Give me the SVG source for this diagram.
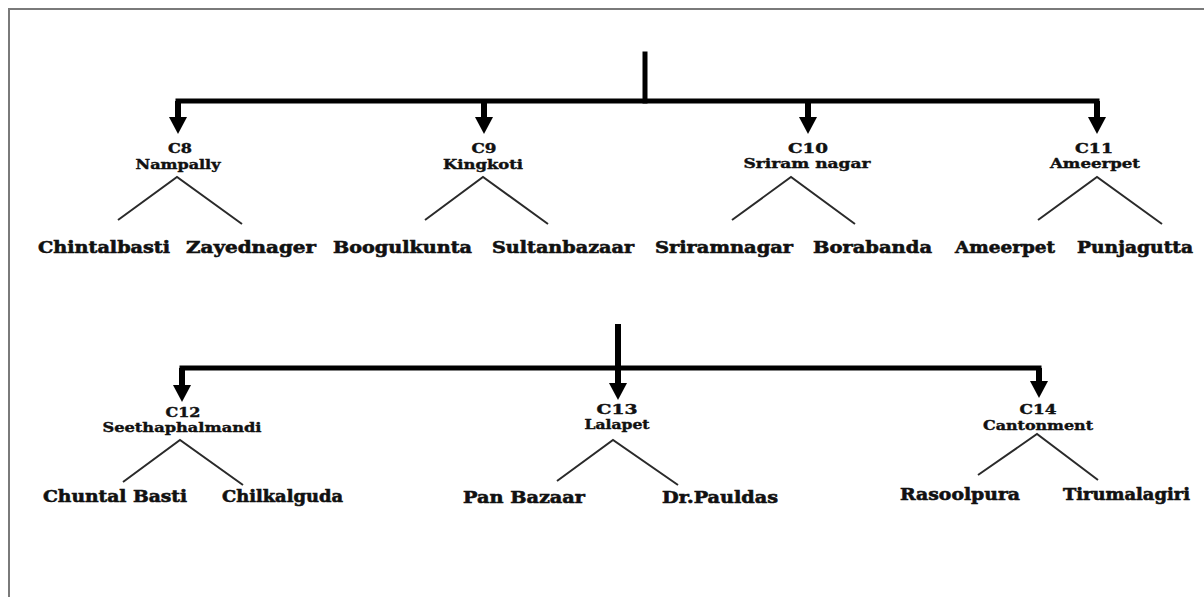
<svg xmlns="http://www.w3.org/2000/svg" width="1204" height="597" viewBox="0 0 1204 597">
<style>
.frame{fill:none;stroke:#7a7a7a;stroke-width:2}
.bar{fill:none;stroke:#000;stroke-width:5;stroke-linecap:square}
.arr{fill:none;stroke:#000;stroke-width:6;marker-end:url(#ah)}
.br{fill:none;stroke:#2a2a2a;stroke-width:2}
.hd{font-family:"DejaVu Serif","Liberation Serif",serif;font-weight:bold;font-size:13px;fill:#111;stroke:#111;stroke-width:0.4;text-anchor:middle}
.lf{font-family:"DejaVu Serif","Liberation Serif",serif;font-weight:bold;font-size:17px;fill:#111;stroke:#111;stroke-width:0.6}
</style>
<defs>
<marker id="ah" viewBox="0 0 17 18" markerWidth="17" markerHeight="18" refX="7" refY="9" orient="auto" markerUnits="userSpaceOnUse">
<path d="M0,0 L17,9 L0,18 Z" fill="#000"/>
</marker>
</defs>
<rect width="1204" height="597" fill="#fff"/>
<path class="frame" d="M9,597 V9 H1204"/>
<g id="connectors">
<path class="bar" d="M645,54 V101"/>
<path class="bar" d="M178,101 H1097"/>
<path class="arr" d="M178,101 V124"/>
<path class="arr" d="M484,101 V124"/>
<path class="arr" d="M808,101 V124"/>
<path class="arr" d="M1097,101 V124"/>
<path class="bar" d="M182,368 H1039"/>
<path class="arr" d="M618,324 V390"/>
<path class="arr" d="M182,368 V392"/>
<path class="arr" d="M1039,368 V388"/>
<path class="br" d="M118,220 L177,177 L242,224"/>
<path class="br" d="M425,220 L483,177 L548,224"/>
<path class="br" d="M732,220 L791,177 L855,224"/>
<path class="br" d="M1038,220 L1097,177 L1162,224"/>
<path class="br" d="M123,482 L180,440 L243,485"/>
<path class="br" d="M557,481 L613,440 L678,485"/>
<path class="br" d="M978,475 L1037,434 L1098,480"/>
</g>
<g id="c8">
<text class="hd" x="180" y="153" textLength="24" lengthAdjust="spacingAndGlyphs">C8</text>
<text class="hd" x="178" y="169" textLength="85" lengthAdjust="spacingAndGlyphs">Nampally</text>
</g>
<g id="c9">
<text class="hd" x="484" y="153" textLength="25" lengthAdjust="spacingAndGlyphs">C9</text>
<text class="hd" x="483" y="169" textLength="80" lengthAdjust="spacingAndGlyphs">Kingkoti</text>
</g>
<g id="c10">
<text class="hd" x="808" y="153" textLength="40" lengthAdjust="spacingAndGlyphs">C10</text>
<text class="hd" x="807" y="168" textLength="127" lengthAdjust="spacingAndGlyphs">Sriram nagar</text>
</g>
<g id="c11">
<text class="hd" x="1094" y="153" textLength="38" lengthAdjust="spacingAndGlyphs">C11</text>
<text class="hd" x="1095" y="168" textLength="90" lengthAdjust="spacingAndGlyphs">Ameerpet</text>
</g>
<g id="c12">
<text class="hd" x="183" y="417" textLength="35" lengthAdjust="spacingAndGlyphs">C12</text>
<text class="hd" x="182" y="432" textLength="159" lengthAdjust="spacingAndGlyphs">Seethaphalmandi</text>
</g>
<g id="c13">
<text class="hd" x="617" y="414" textLength="41" lengthAdjust="spacingAndGlyphs">C13</text>
<text class="hd" x="617" y="429" textLength="65" lengthAdjust="spacingAndGlyphs">Lalapet</text>
</g>
<g id="c14">
<text class="hd" x="1038" y="414" textLength="37" lengthAdjust="spacingAndGlyphs">C14</text>
<text class="hd" x="1038" y="430" textLength="110" lengthAdjust="spacingAndGlyphs">Cantonment</text>
</g>
<g id="chintalbasti"><text class="lf" x="38" y="253" textLength="132" lengthAdjust="spacingAndGlyphs">Chintalbasti</text></g>
<g id="zayednager"><text class="lf" x="186" y="253" textLength="130" lengthAdjust="spacingAndGlyphs">Zayednager</text></g>
<g id="boogulkunta"><text class="lf" x="333" y="253" textLength="139" lengthAdjust="spacingAndGlyphs">Boogulkunta</text></g>
<g id="sultanbazaar"><text class="lf" x="492" y="253" textLength="142" lengthAdjust="spacingAndGlyphs">Sultanbazaar</text></g>
<g id="sriramnagar"><text class="lf" x="655" y="253" textLength="138" lengthAdjust="spacingAndGlyphs">Sriramnagar</text></g>
<g id="borabanda"><text class="lf" x="813" y="253" textLength="119" lengthAdjust="spacingAndGlyphs">Borabanda</text></g>
<g id="ameerpet"><text class="lf" x="955" y="253" textLength="100" lengthAdjust="spacingAndGlyphs">Ameerpet</text></g>
<g id="punjagutta"><text class="lf" x="1077" y="253" textLength="116" lengthAdjust="spacingAndGlyphs">Punjagutta</text></g>
<g id="chuntalbasti"><text class="lf" x="43" y="502" textLength="144" lengthAdjust="spacingAndGlyphs">Chuntal Basti</text></g>
<g id="chilkalguda"><text class="lf" x="222" y="502" textLength="121" lengthAdjust="spacingAndGlyphs">Chilkalguda</text></g>
<g id="panbazaar"><text class="lf" x="463" y="503" textLength="122" lengthAdjust="spacingAndGlyphs">Pan Bazaar</text></g>
<g id="drpauldas"><text class="lf" x="662" y="503" textLength="116" lengthAdjust="spacingAndGlyphs">Dr.Pauldas</text></g>
<g id="rasoolpura"><text class="lf" x="900" y="500" textLength="120" lengthAdjust="spacingAndGlyphs">Rasoolpura</text></g>
<g id="tirumalagiri"><text class="lf" x="1063" y="500" textLength="127" lengthAdjust="spacingAndGlyphs">Tirumalagiri</text></g>
</svg>
